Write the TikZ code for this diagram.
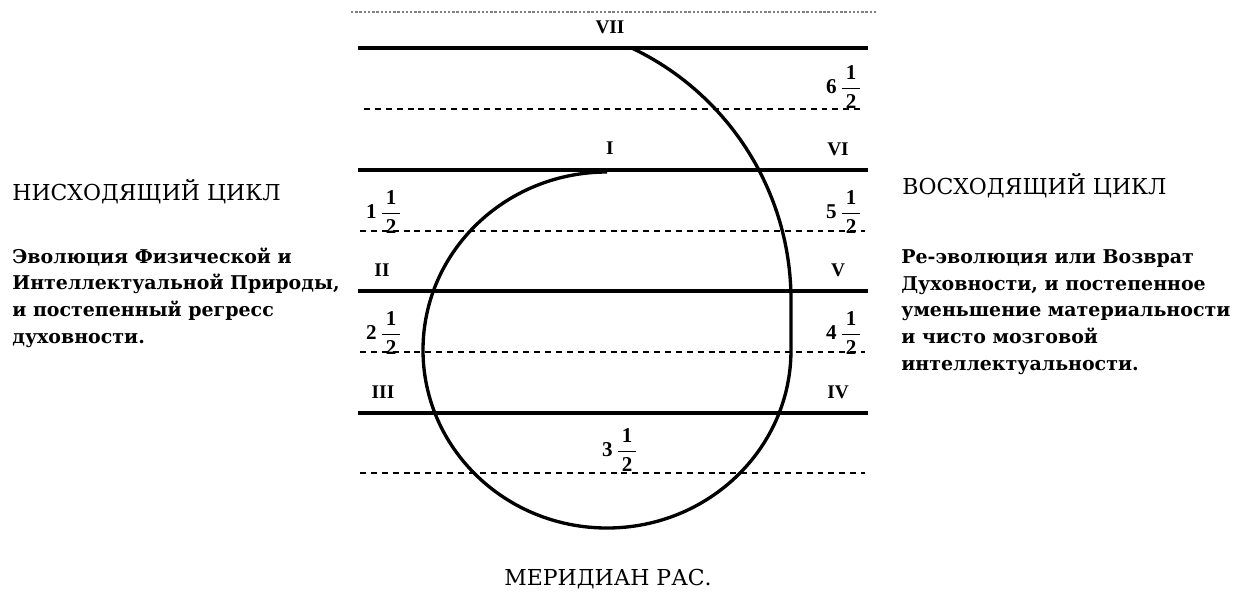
\documentclass[tikz,border=0pt]{standalone}
\usepackage{fontspec}
\usepackage{amsmath}
\setmainfont{DejaVu Serif}
\newfontfamily\numfont{Liberation Serif}
\usetikzlibrary{positioning}
\newcommand{\halfnum}[1]{#1\hspace{2pt}$\genfrac{}{}{0.7pt}{0}{\makebox[10pt]{1}}{\makebox[10pt]{2}}$}

\begin{document}
\begin{tikzpicture}[
			x=0.02cm,
			y=0.02cm,
			level/.style={
				line width=2pt
			},
			halflevel/.style={
				line width=1.3pt,
				dash pattern=on 3.4pt off 2.8pt
			},
			edge/.style={
				line width=0.7pt,
				gray,
				dash pattern=on 1.4pt off 1pt
			},
			spiral/.style={
				line width=1.9pt
			},
			num/.style={
				inner sep=0pt,
				font=\numfont\bfseries\fontsize{11pt}{13pt}\selectfont
			},
			frac/.style={
				inner sep=0pt,
				font=\numfont\bfseries\fontsize{12pt}{14pt}\selectfont
			},
			heading/.style={
				inner sep=0pt,
				anchor=base west,
				font=\fontsize{12.5pt}{15pt}\selectfont
			},
			para/.style={
				inner sep=0pt,
				anchor=base west,
				align=left,
				font=\bfseries\fontsize{10.8pt}{15.1pt}\selectfont
			}
			]
			
			\useasboundingbox (0,0) rectangle (1233,-593);
			
			\draw[edge] (351,-12) -- (877,-12);
			\draw[level] (358,-48) -- (868,-48);
			\draw[halflevel] (364,-109) -- (862,-109);
			\draw[level] (358,-170) -- (868,-170);
			\draw[halflevel] (360,-231) -- (865,-231);
			\draw[level] (358,-291) -- (868,-291);
			\draw[halflevel] (360,-352) -- (865,-352);
			\draw[level] (358,-413) -- (868,-413);
			\draw[halflevel] (360,-473) -- (865,-473);
			
			\draw[spiral] (607,-172) arc[start angle=90, end angle=360, x radius=184, y radius=178]
				-- (791,-300) arc[start angle=0, end angle=64.6, radius=279];
			
			\node[num] (vii) at (610,-27) {VII};
			\node[num] (i) at (610,-148) {I};
			\node[num] (vi) at (838,-149) {VI};
			\node[num] (ii) at (382,-270) {II};
			\node[num] (v) at (838,-270) {V};
			\node[num] (iii) at (383,-392) {III};
			\node[num] (iv) at (838,-392) {IV};
			
			\node[frac] (six) at (844,-87) {\halfnum{6}};
			\node[frac] (one) at (384,-212) {\halfnum{1}};
			\node[frac] (five) at (844,-212) {\halfnum{5}};
			\node[frac] (two) at (384,-333) {\halfnum{2}};
			\node[frac] (four) at (844,-333) {\halfnum{4}};
			\node[frac] (three) at (620,-450) {\halfnum{3}};
			
			\node[heading] (down) at (12,-200) {НИСХОДЯЩИЙ ЦИКЛ};
			\node[para] (downtext) at (12,-343) {Эволюция Физической и\\
				Интеллектуальной Природы,\\
				и постепенный регресс\\
				духовности.};
			
			\node[heading] (up) at (902,-194) {ВОСХОДЯЩИЙ ЦИКЛ};
			\node[para] (uptext) at (901,-370) {Ре-эволюция или Возврат\\
				Духовности, и постепенное\\
				уменьшение материальности\\
				и чисто мозговой\\
				интеллектуальности.};
			
			\node[heading, anchor=base] (meridian) at (608,-585) {МЕРИДИАН РАС.};
			
		\end{tikzpicture}
\end{document}
